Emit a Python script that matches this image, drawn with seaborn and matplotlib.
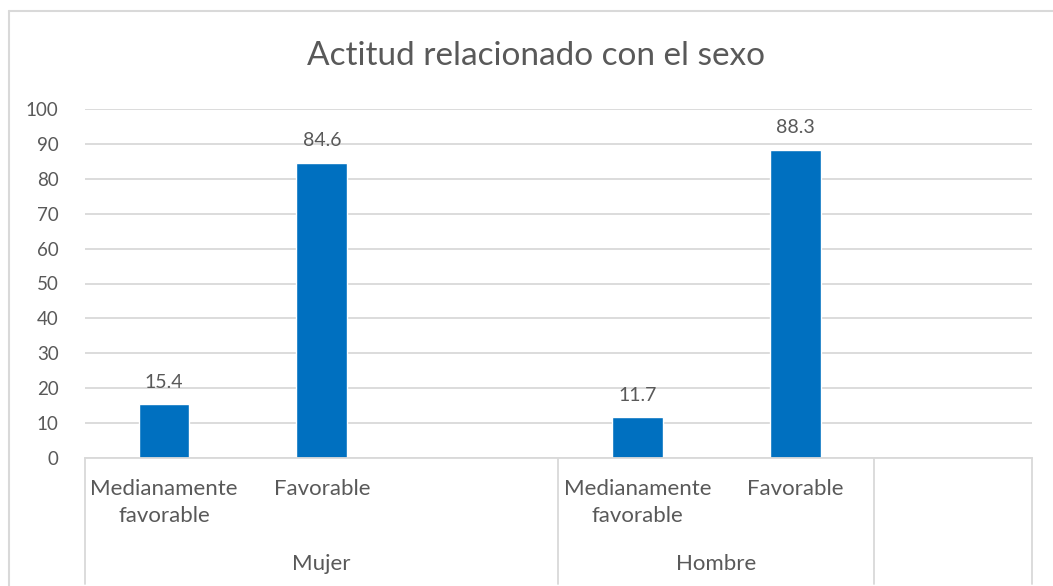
import matplotlib
matplotlib.use("Agg")
import matplotlib.pyplot as plt
import matplotlib.transforms as mtransforms
import numpy as np
import pandas as pd
import seaborn as sns

# ---------- data ----------
SLOTS = ["m_med", "m_fav", "m_gap", "h_med", "h_fav", "end"]
LEVEL1 = ["Medianamente\nfavorable", "Favorable", "", "Medianamente\nfavorable", "Favorable", ""]
GROUPS = ["Mujer", "Hombre", ""]
GROUP_SPAN = [(0, 3), (3, 5), (5, 6)]          # slot ranges of each group
VALUES = [15.4, 84.6, np.nan, 11.7, 88.3, np.nan]

df = pd.DataFrame({"slot": SLOTS, "value": VALUES})

# ---------- style ----------
sns.set_theme(style="white")
plt.rcParams["font.family"] = ["Lato", "DejaVu Sans"]
GRAY = "#595959"
GRID = "#d9d9d9"
BLUE = "#0070C0"

fig = plt.figure(figsize=(10.53, 5.86), dpi=100)
ax = fig.add_axes([85 / 1053, (586 - 458) / 586, (1032 - 85) / 1053, (458 - 109) / 586])

sns.barplot(data=df.dropna(), x="slot", y="value", order=SLOTS,
            color=BLUE, width=0.32, saturation=1, ax=ax)

ax.set_xlim(-0.5, len(SLOTS) - 0.5)
ax.set_ylim(0, 100)
ax.set_yticks(range(0, 101, 10))
ax.tick_params(axis="y", labelsize=13.5, labelcolor=GRAY, length=0, pad=19)
ax.set_xticks([])
ax.set_xlabel("")
ax.set_ylabel("")
ax.grid(axis="y", color=GRID, linewidth=1.3)
ax.set_axisbelow(True)
for s in ["top", "right", "left"]:
    ax.spines[s].set_visible(False)
ax.spines["bottom"].set_color(GRID)
ax.spines["bottom"].set_linewidth(1.3)

# data labels
for i, v in enumerate(VALUES):
    if not np.isnan(v):
        ax.annotate(f"{v:.1f}", xy=(i, v), xytext=(0, 12), textcoords="offset points",
                    ha="center", va="baseline", fontsize=14, color=GRAY)

# multi-level category axis
trans = mtransforms.blended_transform_factory(ax.transData, ax.transAxes)
for i, lab in enumerate(LEVEL1):
    if lab:
        ax.text(i, -0.06, lab, transform=trans, ha="center", va="top",
                fontsize=16, color=GRAY, linespacing=1.45)
for g, (a, b) in zip(GROUPS, GROUP_SPAN):
    if g:
        ax.text((a + b - 1) / 2, -0.305, g, transform=trans, ha="center", va="center",
                fontsize=16, color=GRAY)
for x in [-0.5, 2.5, 4.5, 5.5]:
    ax.plot([x, x], [0, -0.36], transform=trans, color=GRID, linewidth=1.3, clip_on=False)

# title
fig.text(536 / 1053, 1 - 56 / 586, "Actitud relacionado con el sexo",
         ha="center", va="center", fontsize=24, color=GRAY)

# chart border
fig.add_artist(plt.Line2D([9 / 1053, 1], [1 - 11 / 586, 1 - 11 / 586],
                          transform=fig.transFigure, color=GRID, linewidth=1.5))
fig.add_artist(plt.Line2D([9 / 1053, 9 / 1053], [0, 1 - 11 / 586],
                          transform=fig.transFigure, color=GRID, linewidth=1.5))

fig.savefig("out.png", dpi=100, facecolor="white")
